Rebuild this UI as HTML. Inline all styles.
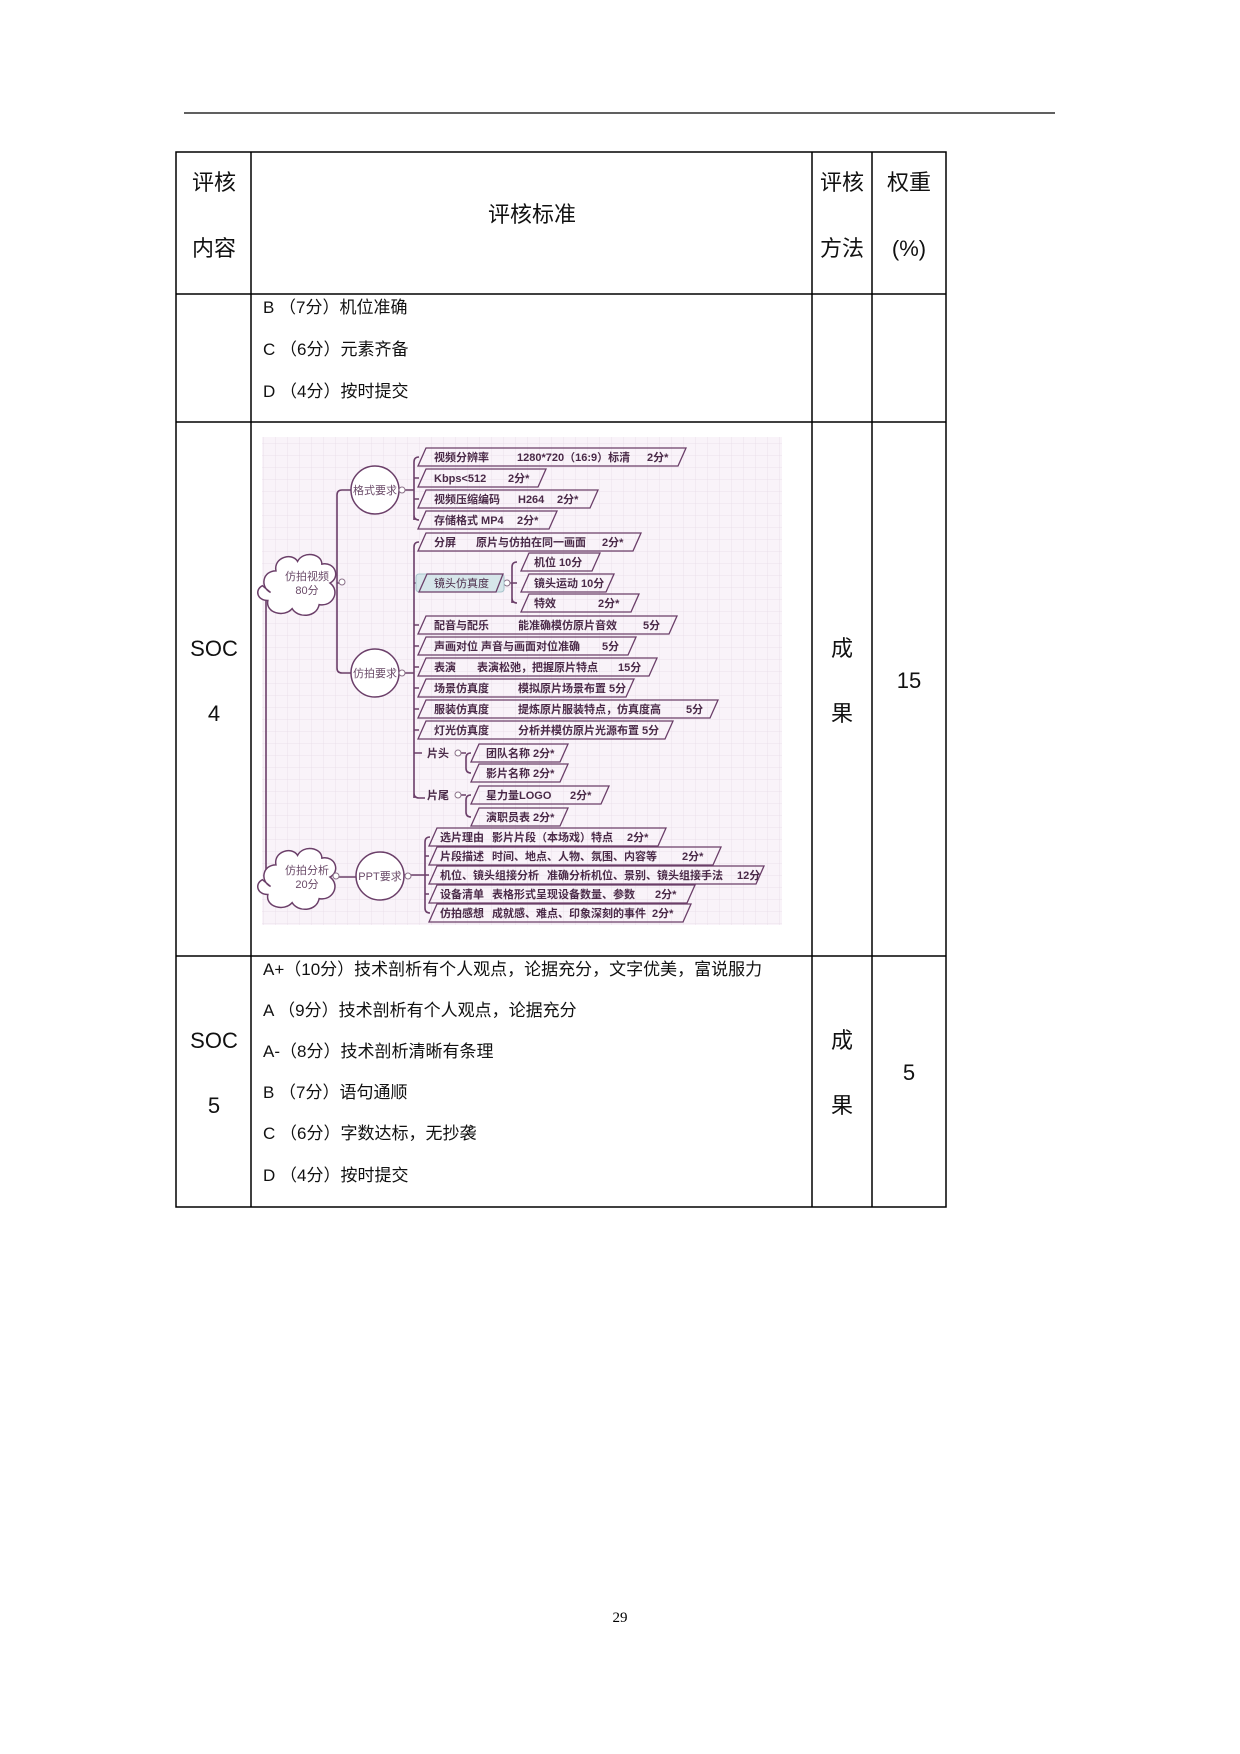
<!DOCTYPE html>
<html><head><meta charset="utf-8"><style>
html,body{margin:0;padding:0;background:#fff}
svg{display:block}
.t{font-family:"Liberation Sans","Noto Sans CJK SC",sans-serif;fill:#111}
.m{font-family:"Liberation Sans","Noto Sans CJK SC",sans-serif;fill:#4a2a48;font-weight:bold;font-size:11px}
.n{font-family:"Liberation Sans","Noto Sans CJK SC",sans-serif;fill:#6a4a68;font-size:11px}
</style></head><body>
<svg width="1240" height="1754" viewBox="0 0 1240 1754" xmlns="http://www.w3.org/2000/svg">
<defs>
<pattern id="g" width="12" height="12" patternUnits="userSpaceOnUse"><path d="M12 0V12H0" fill="none" stroke="#e8dce8" stroke-width="0.8"/></pattern>
<path id="cl" d="M-27 7c-8-4-6-16 4-16c-2-10 12-14 16-7c4-8 18-6 18 2c10-2 14 10 6 14c8 6 2 18-8 16c-2 10-16 10-20 3c-6 7-20 3-18-6c-8 0-10-8-4-11z"/>
</defs>
<line x1="184" y1="113" x2="1055" y2="113" stroke="#000" stroke-width="1.3"/>
<g stroke="#000" stroke-width="1.5" fill="none">
<rect x="176" y="152" width="770" height="1055"/>
<line x1="251" y1="152" x2="251" y2="1207"/>
<line x1="812" y1="152" x2="812" y2="1207"/>
<line x1="872" y1="152" x2="872" y2="1207"/>
<line x1="176" y1="294" x2="946" y2="294"/>
<line x1="176" y1="422" x2="946" y2="422"/>
<line x1="176" y1="956" x2="946" y2="956"/>
</g>
<g class="t" font-size="22" text-anchor="middle">
<text x="214" y="190">评核</text><text x="214" y="256">内容</text>
<text x="532" y="222">评核标准</text>
<text x="842" y="190">评核</text><text x="842" y="256">方法</text>
<text x="909" y="190">权重</text><text x="909" y="256">(%)</text>
<text x="214" y="656">SOC</text><text x="214" y="721">4</text>
<text x="842" y="656">成</text><text x="842" y="721">果</text>
<text x="909" y="688">15</text>
<text x="214" y="1048">SOC</text><text x="214" y="1113">5</text>
<text x="842" y="1048">成</text><text x="842" y="1113">果</text>
<text x="909" y="1080">5</text>
</g>
<g class="t" font-size="17">
<text x="263" y="313">B （7分）机位准确</text>
<text x="263" y="355">C （6分）元素齐备</text>
<text x="263" y="397">D （4分）按时提交</text>
<text x="263" y="975">A+（10分）技术剖析有个人观点，论据充分，文字优美，富说服力</text>
<text x="263" y="1016">A （9分）技术剖析有个人观点，论据充分</text>
<text x="263" y="1057">A-（8分）技术剖析清晰有条理</text>
<text x="263" y="1098">B （7分）语句通顺</text>
<text x="263" y="1139">C （6分）字数达标，无抄袭</text>
<text x="263" y="1181">D （4分）按时提交</text>
</g>
<text x="620" y="1622" font-family="Liberation Serif,serif" font-size="15" text-anchor="middle">29</text>
<rect x="262" y="437" width="520" height="488" fill="#f9f3f9"/>
<rect x="262" y="437" width="520" height="488" fill="url(#g)"/>
<g stroke="#6b3f69" stroke-width="1.6" fill="none">
<path d="M266 730V583q0-5 5-5h4"/><path d="M266 730V872q0 5 5 5h4"/>
<path d="M343 583h-6M337 583V495q0-5 5-5h9M337 583V668q0 5 5 5h9"/>
<path d="M399 490h15M414 520V462q0-5 5-5M414 478h5M414 499h5M414 515q0 5 5 5"/>
<path d="M399 673h15M414 798V547q0-5 5-5M414 583h4M414 625h5M414 646h5M414 667h5M414 688h5M414 709h5M414 730h5M414 793q0 5 5 5h6M414 753h8"/>
<path d="M504 583h8M512 603V567q0-5 5-5M512 583h5M512 598q0 5 5 5"/>
<path d="M460 753h6M466 768V758q0-5 5-5M466 768q0 5 5 5"/>
<path d="M460 795h6M466 812V800q0-5 5-5M466 812q0 5 5 5"/>
<path d="M338 877h18M404 875h21M425 908V842q0-5 5-5M425 856h4M425 875h4M425 894h4M425 908q0 5 5 5"/>
</g>
<g fill="#fff" stroke="#6b3f69" stroke-width="1.5">
<circle cx="375" cy="490" r="24"/><circle cx="375" cy="673" r="24"/><circle cx="380" cy="876" r="24"/>
<use href="#cl" transform="translate(307,583) scale(1.35)" stroke-width="1.1"/>
<use href="#cl" transform="translate(307,877) scale(1.35)" stroke-width="1.1"/>
</g>
<g fill="#fff" stroke="#8a7088" stroke-width="1"><circle cx="342" cy="582" r="3"/><circle cx="402" cy="490" r="3"/><circle cx="402" cy="673" r="3"/><circle cx="458" cy="753" r="3"/><circle cx="458" cy="795" r="3"/><circle cx="336" cy="876" r="3"/><circle cx="408" cy="876" r="3"/><circle cx="507" cy="583" r="3"/></g>
<rect x="416" y="574" width="88" height="18" rx="3" fill="#d6e6ea" stroke="#a8c4cc"/>
<g class="n" text-anchor="middle">
<text x="375" y="494">格式要求</text><text x="375" y="677">仿拍要求</text><text x="380" y="880">PPT要求</text>
<text x="307" y="580">仿拍视频</text><text x="307" y="594">80分</text>
<text x="307" y="874">仿拍分析</text><text x="307" y="888">20分</text>
</g>
<g fill="none" stroke="#6b3f69" stroke-width="1.3">
<path d="M426 448H686L678 466H418Z"/>
<path d="M426 469H546L538 487H418Z"/>
<path d="M426 490H598L590 508H418Z"/>
<path d="M426 511H557L549 529H418Z"/>
<path d="M426 533H641L633 551H418Z"/>
<path d="M427 574H503L496 592H419Z"/>
<path d="M529 553H600L592 571H521Z"/>
<path d="M529 574H614L606 592H521Z"/>
<path d="M529 594H639L631 612H521Z"/>
<path d="M426 616H677L669 634H418Z"/>
<path d="M426 637H636L628 655H418Z"/>
<path d="M426 658H657L649 676H418Z"/>
<path d="M426 679H634L626 697H418Z"/>
<path d="M426 700H718L710 718H418Z"/>
<path d="M426 721H673L665 739H418Z"/>
<path d="M479 744H568L560 762H471Z"/>
<path d="M479 764H568L560 782H471Z"/>
<path d="M479 786H609L601 804H471Z"/>
<path d="M479 808H568L560 826H471Z"/>
<path d="M437 828H666L658 846H429Z"/>
<path d="M437 847H721L713 865H429Z"/>
<path d="M437 866H764L756 884H429Z"/>
<path d="M437 885H695L687 903H429Z"/>
<path d="M437 904H691L683 922H429Z"/>
</g>
<g class="m">
<text x="434" y="461">视频分辨率<tspan x="517">1280*720（16:9）标清</tspan><tspan x="647">2分*</tspan></text>
<text x="434" y="482">Kbps&lt;512<tspan x="508">2分*</tspan></text>
<text x="434" y="503">视频压缩编码<tspan x="518">H264</tspan><tspan x="557">2分*</tspan></text>
<text x="434" y="524">存储格式 MP4<tspan x="517">2分*</tspan></text>
<text x="434" y="546">分屏<tspan x="476">原片与仿拍在同一画面</tspan><tspan x="602">2分*</tspan></text>
<text x="434" y="587" font-weight="normal">镜头仿真度</text>
<text x="534" y="566">机位 10分</text>
<text x="534" y="587">镜头运动 10分</text>
<text x="534" y="607">特效<tspan x="598">2分*</tspan></text>
<text x="434" y="629">配音与配乐<tspan x="518">能准确模仿原片音效</tspan><tspan x="643">5分</tspan></text>
<text x="434" y="650">声画对位 声音与画面对位准确<tspan x="602">5分</tspan></text>
<text x="434" y="671">表演<tspan x="477">表演松弛，把握原片特点</tspan><tspan x="618">15分</tspan></text>
<text x="434" y="692">场景仿真度<tspan x="518">模拟原片场景布置 5分</tspan></text>
<text x="434" y="713">服装仿真度<tspan x="518">提炼原片服装特点，仿真度高</tspan><tspan x="686">5分</tspan></text>
<text x="434" y="734">灯光仿真度<tspan x="518">分析并模仿原片光源布置</tspan><tspan x="642">5分</tspan></text>
<text x="427" y="757">片头</text><text x="427" y="799">片尾</text>
<text x="486" y="757">团队名称 2分*</text>
<text x="486" y="777">影片名称 2分*</text>
<text x="486" y="799">星力量LOGO<tspan x="570">2分*</tspan></text>
<text x="486" y="821">演职员表 2分*</text>
<text x="440" y="841">选片理由<tspan x="492">影片片段（本场戏）特点</tspan><tspan x="627">2分*</tspan></text>
<text x="440" y="860">片段描述<tspan x="492">时间、地点、人物、氛围、内容等</tspan><tspan x="682">2分*</tspan></text>
<text x="440" y="879">机位、镜头组接分析<tspan x="547">准确分析机位、景别、镜头组接手法</tspan><tspan x="737">12分</tspan></text>
<text x="440" y="898">设备清单<tspan x="492">表格形式呈现设备数量、参数</tspan><tspan x="655">2分*</tspan></text>
<text x="440" y="917">仿拍感想<tspan x="492">成就感、难点、印象深刻的事件</tspan><tspan x="652">2分*</tspan></text>
</g>
</svg>
</body></html>
